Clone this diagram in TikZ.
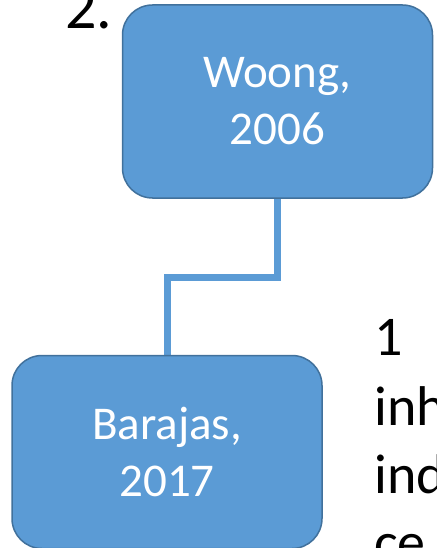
\documentclass[tikz,border=0pt]{standalone}
\usepackage{fontspec}
\setmainfont{Carlito}
\usetikzlibrary{backgrounds}
\definecolor{boxfill}{HTML}{5B9BD5}
\definecolor{boxline}{HTML}{41719C}
\begin{document}
\begin{tikzpicture}[x=1pt,y=-1pt,
  orgbox/.style={draw=boxline, line width=1.5pt, fill=boxfill, rounded corners=30pt,
    minimum width=310pt, text=white, align=center, inner sep=0pt,
    font=\fontsize{47}{57}\selectfont},
  link/.style={draw=boxfill, line width=7pt},
  bigtext/.style={anchor=base west, inner sep=0pt, text=black, font=\fontsize{56}{68}\selectfont}]
\useasboundingbox (0,0) rectangle (436,548);
\clip (0,0) rectangle (436,548);
\node[orgbox, minimum height=193pt] (top) at (277.5,101.5) {Woong,\\2006};
\node[orgbox, minimum height=193pt] (bot) at (167,452) {Barajas,\\2017};
\begin{scope}[on background layer]
  \draw[link] (top.south) -- ++(0,79) -| (bot.north);
\end{scope}
\node[bigtext, font=\fontsize{62}{68}\selectfont] (two) at (65,29) {2.};
\node[bigtext] (l1) at (374,355) {1};
\node[bigtext] (l2) at (374,425) {inh};
\node[bigtext] (l3) at (374,493) {ind};
\node[bigtext] (l4) at (374,561) {ce};
\end{tikzpicture}
\end{document}
